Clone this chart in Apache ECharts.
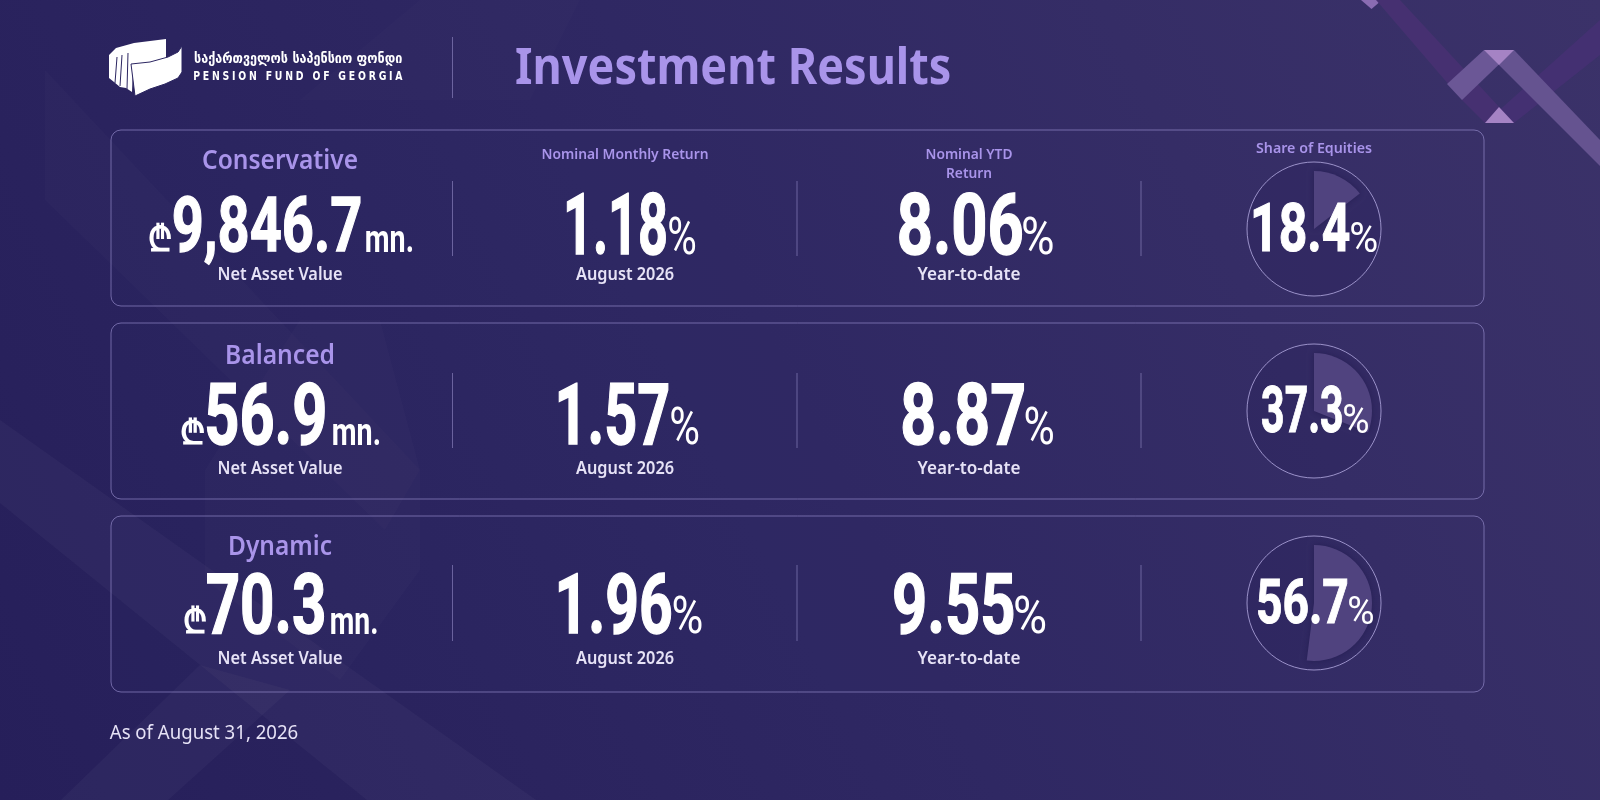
<!DOCTYPE html>
<html>
<head>
<meta charset="utf-8">
<style>html,body{margin:0;padding:0;background:#2b2561}#main{width:1600px;height:800px}</style>
<script src="https://cdn.jsdelivr.net/npm/echarts@6/dist/echarts.min.js"></script>
</head>
<body>
<div id="main"></div>
<script>
// values
var funds = ['Conservative', 'Balanced', 'Dynamic'];
var netAssetValues = [9846.7, 56.9, 70.3];
var monthlyReturns = [1.18, 1.57, 1.96];
var ytdReturns = [8.06, 8.87, 9.55];
var equityShares = [18.4, 37.3, 56.7];
// the wedges in the picture are drawn smaller than the printed shares
var wedgeShares = [14.5, 31, 52];

var titleText = 'Investment Results';
var logoKa = 'საქართველოს საპენსიო ფონდი';
var logoEn = 'PENSION FUND OF GEORGIA';
var asOfText = 'As of August 31, 2026';

// layout: [left, right, top, bottom] of glyphs
var cardTops = [130, 323, 516];
var cardHeight = 176;
var circleY = [229, 411, 603];
var dividerY = [[181, 256], [373, 448], [565, 641]];
var nameBox = [[202, 358, 161], [225, 335, 356], [228, 332, 547]];
var subY = [275, 469, 659];
var curBox = [[149, 171, 222, 252], [181, 204, 417, 445], [184, 206, 605, 634]];
var navBox = [[173.5, 360, 195, 252], [207, 325, 382, 445], [207, 324, 572, 634]];
var mnBox = [[366, 412, 230, 252], [333, 379, 423, 445], [331, 376.5, 612, 634]];
var monthBox = [[567, 666, 192, 255, 669, 695], [559, 668, 382, 445, 671, 698], [559, 671, 572, 634, 673.5, 701.5]];
var ytdBox = [[899.5, 1022, 192, 255, 1023, 1052.5], [903, 1023.5, 382, 445, 1025.5, 1053], [894, 1013, 572, 634, 1015, 1045]];
var shareBox = [[1254, 1349.5, 202, 252, 1351, 1376.5], [1262, 1342, 385, 433, 1344, 1368], [1258, 1347, 578, 624, 1349, 1373]];

var WHITE = '#ffffff';
var LILAC = '#a994ea';
var PALE = '#e6e2f6';
var BIG = 'bold 90px "Liberation Sans Narrow", Roboto, sans-serif';
var LABEL = '"Noto Sans", sans-serif';
var BG_DARK = '#2b2561';

var ctx = document.createElement('canvas').getContext('2d');

// text stretched to the box it fills in the picture, ref gives the height
function fit(str, font, box, fill, ref, heavy) {
    ctx.font = font;
    ctx.textBaseline = 'middle';
    ctx.textAlign = 'left';
    var m = ctx.measureText(str);
    var v = ctx.measureText(ref || str);
    var sx = (box[1] - box[0]) / (m.actualBoundingBoxLeft + m.actualBoundingBoxRight);
    var sy = (box[3] - box[2]) / (v.actualBoundingBoxAscent + v.actualBoundingBoxDescent);
    var style = {text: str, font: font, fill: fill, align: 'left', verticalAlign: 'middle'};
    if (heavy) {
        style.stroke = fill;
        style.lineWidth = heavy;
    }
    return {
        type: 'text', silent: true, z: 10,
        x: box[0] + m.actualBoundingBoxLeft * sx,
        y: box[2] + v.actualBoundingBoxAscent * sy,
        scaleX: sx, scaleY: sy,
        style: style
    };
}

// centred label with a given width
function label(str, cx, cy, size, weight, width, fill) {
    var font = weight + ' ' + size + 'px ' + LABEL;
    ctx.font = font;
    return {
        type: 'text', silent: true, z: 10,
        x: cx, y: cy,
        scaleX: width / ctx.measureText(str).width,
        style: {text: str, font: font, fill: fill, align: 'center', verticalAlign: 'middle'}
    };
}

function poly(points, fill, z) {
    return {type: 'polygon', silent: true, z: z || 0, shape: {points: points}, style: {fill: fill}};
}

function vline(x, y0, y1) {
    return {type: 'line', silent: true, z: 1, shape: {x1: x, y1: y0, x2: x, y2: y1},
        style: {stroke: 'rgba(170,160,220,0.5)', lineWidth: 1}};
}

var g = [];

// background
g.push({
    type: 'rect', silent: true, z: 0, shape: {x: 0, y: 0, width: 1600, height: 800},
    style: {fill: new echarts.graphic.LinearGradient(0, 1, 1, 0, [
        {offset: 0, color: '#261f5a'},
        {offset: 0.5, color: '#2f2863'},
        {offset: 1, color: '#3b3269'}
    ])}
});

// faint diagonal bands
var FAINT = 'rgba(255,255,255,0.03)';
g.push(poly([[0, 420], [536, 800], [367, 800], [0, 503]], FAINT));
g.push(poly([[61, 800], [168, 800], [290, 690], [200, 665]], FAINT));
g.push(poly([[45, 70], [45, 200], [385, 530], [420, 470]], 'rgba(255,255,255,0.014)'));
g.push(poly([[205, 470], [300, 320], [380, 320], [420, 470], [420, 570], [340, 680], [205, 580]], 'rgba(255,255,255,0.016)'));
g.push(poly([[300, 100], [530, 100], [580, 0], [420, 0]], 'rgba(255,255,255,0.012)'));

// top right chevrons
g.push(poly([[1361, 0], [1382, 0], [1371.5, 9]], '#8a6cb2'));
g.push(poly([[1376, 0], [1400, 0], [1514, 123], [1485, 123], [1462, 100]], '#463071'));
g.push(poly([[1600, 20], [1600, 55], [1514, 123], [1485, 123]], '#443072'));
g.push(poly([[1484, 50], [1514, 50], [1462, 100], [1447, 84]], '#6b5796'));
g.push(poly([[1484, 50], [1514, 50], [1600, 140], [1600, 166], [1499, 65]], '#655390'));
g.push(poly([[1484, 50], [1514, 50], [1499, 65]], '#a583c4'));
g.push(poly([[1485, 123], [1514, 123], [1499, 107]], '#a583c4'));

// logo sheets
g.push(poly([[109, 55], [116, 48], [134, 43], [166, 39], [166, 60], [133, 66], [132, 92], [126, 88], [120, 87], [114, 82], [109, 78]], WHITE, 3));
[[[117, 57], [115, 83]], [[122, 55], [120, 86]], [[128, 53], [127, 89]]].forEach(function (p) {
    g.push({type: 'polyline', silent: true, z: 3, shape: {points: p}, style: {stroke: BG_DARK, lineWidth: 1, fill: null}});
});
g.push({
    type: 'polygon', silent: true, z: 3,
    shape: {points: [[131, 64], [150, 62], [168, 57], [178, 52], [182, 46], [182, 72], [178, 78], [165, 84], [150, 89], [135, 96]]},
    style: {fill: WHITE, stroke: BG_DARK, lineWidth: 1}
});
g.push(fit(logoKa, 'bold 15px "DejaVu Sans", sans-serif', [194, 402, 52, 66], WHITE));
g.push(fit(logoEn.split('').join('\u2009\u200a'), 'bold 11px "DejaVu Sans", sans-serif', [194, 403, 71, 80], WHITE));

// header
g.push(vline(452.5, 37, 98));
g.push(fit(titleText, 'bold 50px ' + LABEL, [516, 949.5, 46, 85], LILAC));

// captions over the columns
g.push(label('Nominal Monthly Return', 625, 155, 15, 600, 167, LILAC));
g.push(label('Nominal YTD', 969, 155, 15, 600, 87, LILAC));
g.push(label('Return', 969, 174, 15, 600, 46, LILAC));
g.push(label('Share of Equities', 1314, 149, 15, 600, 116, LILAC));

function percent(box, value, digits) {
    g.push(fit(value.toFixed(digits), BIG, box, WHITE, '0', 1.5));
    g.push(fit('%', BIG.replace('bold ', ''), [box[4], box[5], box[3] - (box[3] - box[2]) * 0.62, box[3]], WHITE));
}

var pies = [];
funds.forEach(function (name, i) {
    var top = cardTops[i];
    g.push({
        type: 'rect', silent: true, z: 1,
        shape: {x: 111, y: top, width: 1373, height: cardHeight, r: 10},
        style: {fill: 'rgba(60,50,120,0.05)', stroke: 'rgba(160,150,215,0.6)', lineWidth: 1}
    });
    g.push(vline(452.5, dividerY[i][0], dividerY[i][1]));
    g.push(vline(797, dividerY[i][0], dividerY[i][1]));
    g.push(vline(1141, dividerY[i][0], dividerY[i][1]));

    g.push(label(name, 280, nameBox[i][2], 27, 600, nameBox[i][1] - nameBox[i][0], LILAC));
    g.push(fit('\u20be', 'bold 30px "DejaVu Sans", sans-serif', curBox[i], WHITE));
    g.push(fit(netAssetValues[i].toLocaleString('en-US', {minimumFractionDigits: 1}), BIG, navBox[i], WHITE, '0', 1.5));
    g.push(fit('mn.', BIG, mnBox[i], WHITE));
    g.push(label('Net Asset Value', 280, subY[i], 17, 600, 125, PALE));

    percent(monthBox[i], monthlyReturns[i], 2);
    g.push(label('August 2026', 625, subY[i], 17, 600, 98, PALE));
    percent(ytdBox[i], ytdReturns[i], 2);
    g.push(label('Year-to-date', 969, subY[i], 17, 600, 103, PALE));

    // dial
    g.push({
        type: 'circle', silent: true, z: 1,
        shape: {cx: 1314, cy: circleY[i], r: 67},
        style: {fill: 'rgba(35,28,85,0.22)', stroke: 'rgba(190,180,235,0.75)', lineWidth: 1}
    });
    pies.push({
        type: 'pie', silent: true, animation: false, z: 2,
        center: [1314, circleY[i]], radius: [0, 58],
        startAngle: 90, clockwise: true,
        label: {show: false}, labelLine: {show: false},
        data: [
            {value: wedgeShares[i], itemStyle: {color: '#50437f', shadowBlur: 6, shadowColor: 'rgba(25,20,70,0.5)'}},
            {value: 100 - wedgeShares[i], itemStyle: {color: 'transparent'}}
        ]
    });
    percent(shareBox[i], equityShares[i], 1);
});

g.push(label(asOfText, 204, 733, 20, 400, 188.5, PALE));

var chart = echarts.init(document.getElementById('main'));
chart.setOption({
    animation: false,
    graphic: {elements: g},
    series: pies
});
</script>
</body>
</html>
